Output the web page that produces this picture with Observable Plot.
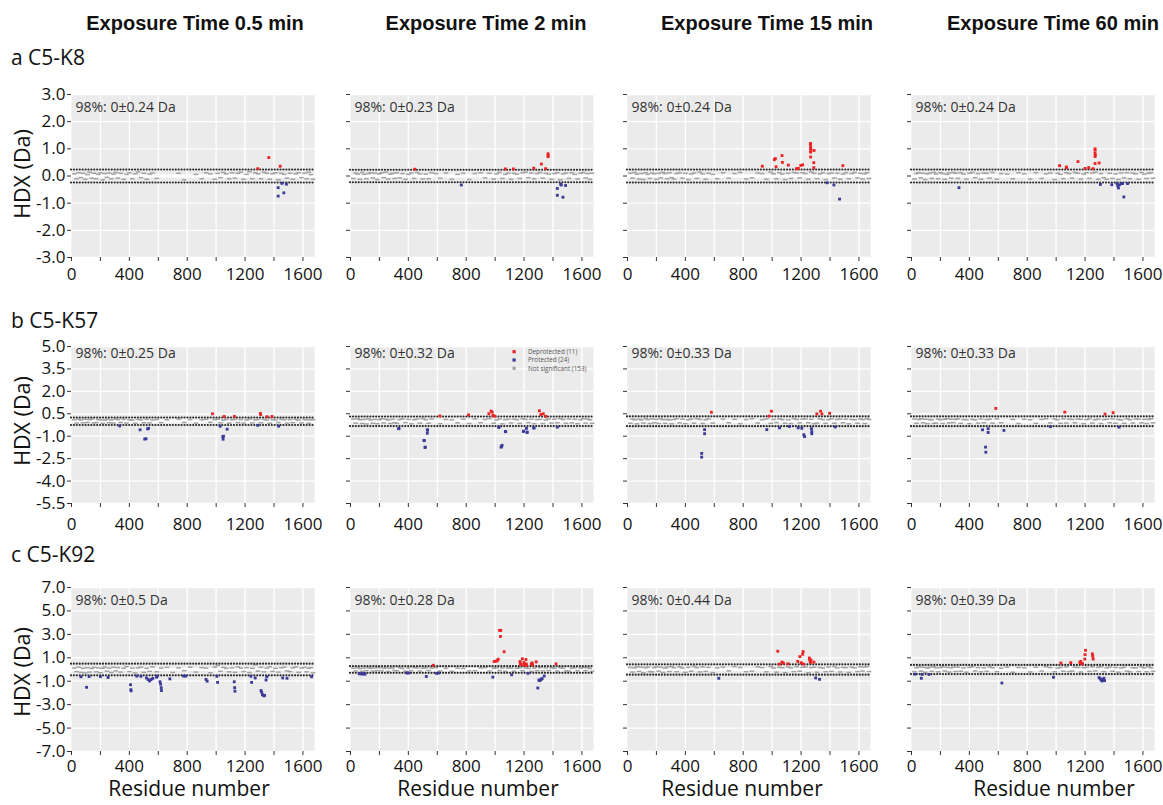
<!DOCTYPE html>
<html><head><meta charset="utf-8">
<script src="https://cdn.jsdelivr.net/npm/d3@7"></script>
<script src="https://cdn.jsdelivr.net/npm/@observablehq/plot@0.6"></script>
<style>
body{margin:0;background:#fff;}
#root{position:relative;width:1163px;height:805px;overflow:hidden;background:#fff;}
#root > svg{position:absolute;}
</style></head><body><div id="root"></div>
<script>
// ---------- categories / labels ----------
const exposureTitles = ["Exposure Time 0.5 min","Exposure Time 2 min","Exposure Time 15 min","Exposure Time 60 min"];
const rowLabels = ["a C5-K8","b C5-K57","c C5-K92"];
const legendLabels = ["Deprotected (11)","Protected (24)","Not significant (153)"];
const xMinorTicks = [0,200,400,600,800,1000,1200,1400,1600];
const xLabelTicks = [0,400,800,1200,1600];
const yTicksA = [-3,-2,-1,0,1,2,3];
const yTicksB = [-5.5,-4,-2.5,-1,0.5,2,3.5,5];
const yTicksC = [-7,-5,-3,-1,1,3,5,7];
// 98% significance thresholds (Da)
const thrA = [0.24,0.23,0.24,0.24];
const thrB = [0.25,0.32,0.33,0.33];
const thrC = [0.5,0.28,0.44,0.39];

// ---------- significant peptides [residue, HDX] ----------
const sigA1 = [[1288,0.27],[1364,0.68],[1443,0.36],[1429,-0.43],[1429,-0.74],[1468,-0.62],[1455,-0.27],[1486,-0.3]];
const sigA2 = [[444,0.25],[766,-0.33],[1071,0.26],[1126,0.26],[1267,0.29],[1320,0.44],[1349,0.27],[1366,0.82],[1366,0.76],[1366,0.71],[1430,-0.46],[1430,-0.71],[1453,-0.3],[1457,-0.33],[1469,-0.78],[1487,-0.35]];
const sigA3 = [[932,0.36],[1015,0.6],[1022,0.64],[1027,0.34],[1068,0.75],[1071,0.5],[1112,0.4],[1168,0.27],[1181,0.28],[1198,0.39],[1211,0.41],[1265,1.2],[1265,1.16],[1266,1.06],[1267,0.99],[1267,0.92],[1266,0.88],[1266,0.7],[1290,0.94],[1288,0.49],[1288,0.31],[1489,0.38],[1380,-0.25],[1427,-0.33],[1466,-0.85]];
const sigA4 = [[328,-0.43],[1024,0.38],[1070,0.31],[1072,0.33],[1151,0.53],[1200,0.28],[1225,0.31],[1255,0.27],[1269,1.0],[1269,0.95],[1269,0.84],[1271,0.77],[1269,0.72],[1269,0.46],[1297,0.48],[1306,-0.31],[1385,-0.32],[1420,-0.27],[1426,-0.36],[1431,-0.44],[1438,-0.32],[1452,-0.28],[1459,-0.28],[1468,-0.77],[1494,-0.28]];
const sigB1 = [[333,-0.31],[474,-0.57],[506,-1.19],[515,-1.17],[526,-0.51],[533,-0.47],[975,0.5],[1055,0.32],[1028,-0.33],[1046,-1.02],[1048,-1.2],[1051,-1.0],[1076,-0.53],[1126,0.32],[1306,0.52],[1308,0.45],[1352,0.3],[1386,0.32],[1287,-0.27],[1432,-0.33]];
const sigB2 = [[333,-0.5],[335,-0.48],[508,-1.28],[510,-1.3],[515,-1.75],[517,-1.73],[531,-0.57],[533,-0.6],[531,-0.8],[618,0.36],[816,0.43],[956,0.5],[972,0.68],[979,0.61],[985,0.4],[998,0.34],[1025,-0.41],[1027,-0.38],[1041,-1.73],[1043,-1.7],[1048,-1.61],[1071,-0.68],[1073,-0.7],[1195,-0.68],[1197,-0.66],[1216,-0.48],[1220,-0.75],[1222,-0.72],[1267,-0.43],[1269,-0.46],[1306,0.7],[1316,0.45],[1333,0.5],[1349,0.33],[1430,-0.39]];
const sigB3 = [[580,0.6],[513,-2.15],[513,-2.4],[533,-0.56],[533,-0.83],[979,0.35],[995,0.67],[963,-0.56],[1051,-0.44],[1120,-0.35],[1180,-0.44],[1205,-0.47],[1219,-0.9],[1224,-1.03],[1272,-0.49],[1274,-0.69],[1274,-0.83],[1309,0.49],[1335,0.67],[1344,0.49],[1397,0.53],[1436,-0.38]];
const sigB4 = [[491,-0.57],[512,-1.73],[514,-2.07],[530,-0.5],[530,-0.75],[583,0.86],[639,-0.61],[961,-0.36],[1060,0.61],[1338,0.48],[1394,0.57],[1435,-0.39]];
const sigC1 = [[65,-0.62],[104,-1.52],[122,-0.6],[200,-0.6],[253,-0.68],[408,-1.3],[410,-1.72],[412,-1.82],[452,-0.56],[480,-0.58],[518,-0.72],[530,-0.86],[540,-0.98],[550,-0.86],[562,-0.76],[588,-0.66],[594,-0.56],[612,-1.05],[616,-1.25],[620,-1.55],[622,-1.8],[680,-0.8],[775,-0.56],[790,-0.56],[930,-0.85],[938,-1.0],[1005,-0.58],[1010,-1.1],[1125,-1.05],[1128,-1.55],[1130,-1.85],[1240,-0.58],[1245,-1.1],[1270,-0.72],[1310,-1.8],[1315,-1.95],[1320,-2.15],[1330,-2.25],[1335,-2.2],[1345,-0.9],[1350,-0.62],[1460,-0.72],[1490,-0.75],[1660,-0.62]];
const sigC2 = [[60,-0.36],[72,-0.38],[85,-0.38],[95,-0.35],[100,-0.4],[391,-0.3],[403,-0.3],[524,-0.6],[572,0.36],[595,-0.33],[609,-0.3],[984,-0.65],[993,0.68],[1009,0.71],[1018,0.8],[1021,0.88],[1030,3.34],[1039,3.34],[1037,2.82],[1062,1.52],[1114,-0.45],[1172,0.68],[1174,0.48],[1181,0.42],[1188,0.91],[1199,0.59],[1201,0.36],[1213,0.85],[1215,0.48],[1217,0.36],[1227,-0.33],[1250,0.48],[1256,0.56],[1259,0.39],[1284,0.65],[1295,-1.58],[1302,-0.9],[1308,-0.95],[1314,-0.88],[1320,-0.82],[1325,-0.78],[1339,-0.56],[1421,0.48]];
const sigC3 = [[1039,1.56],[1049,0.46],[1068,0.63],[1078,0.55],[1109,0.49],[1177,0.69],[1192,1.1],[1201,0.58],[1211,1.3],[1214,1.53],[1218,0.46],[1257,0.98],[1260,0.84],[1263,0.69],[1266,0.6],[1269,0.8],[1289,0.63],[631,-0.75],[1301,-0.72],[1328,-0.84]];
const sigC4 = [[24,-0.4],[68,-0.75],[73,-0.42],[121,-0.42],[625,-1.15],[982,-0.66],[1033,0.55],[1101,0.58],[1164,0.6],[1170,0.69],[1177,0.52],[1183,0.49],[1200,1.27],[1203,1.64],[1198,0.89],[1251,1.33],[1253,1.12],[1256,0.89],[1297,-0.69],[1305,-0.8],[1312,-0.9],[1318,-0.98],[1325,-0.85],[1330,-0.75],[1335,-0.95]];

// ---------- not-significant peptides: shared residue positions + per-panel HDX ----------
const residues = [
 20,35,50,65,80,95,110,125,140,155,
 170,185,200,215,230,245,260,275,290,305,
 320,340,360,380,400,420,440,460,480,500,
 520,540,560,590,620,660,700,740,780,820,
 860,900,930,960,990,1010,1030,1050,1070,1090,
 1110,1130,1150,1170,1190,1210,1230,1250,1270,1290,
 1310,1330,1350,1370,1390,1410,1430,1450,1470,1490,
 1510,1530,1550,1570,1590,1610,1625,1640,1655,1670];
const greyA1 = [
 0.08,-0.10,0.12,-0.06,0.10,-0.12,0.05,0.14,-0.08,0.10,
 -0.10,0.06,0.12,-0.14,0.09,-0.05,0.11,-0.10,0.07,0.13,
 -0.08,0.10,-0.12,0.06,0.12,-0.10,0.08,0.15,-0.06,0.10,
 -0.12,0.07,0.11,-0.09,null,null,null,0.10,-0.14,null,
 0.06,-0.10,0.12,0.08,-0.12,0.10,-0.06,0.13,0.08,-0.10,
 0.12,-0.08,0.10,0.14,-0.12,0.06,0.16,-0.10,0.12,0.08,
 -0.10,0.14,0.10,-0.12,0.08,0.12,-0.14,0.10,0.06,-0.08,
 0.10,-0.12,0.08,0.12,-0.06,0.10,-0.10,0.14,0.05,-0.12];
const greyA2 = [
 -0.09,0.11,0.07,-0.12,0.13,0.06,-0.10,0.09,0.12,-0.07,
 0.10,-0.13,0.08,0.12,-0.06,0.14,-0.11,0.07,0.10,-0.09,
 0.12,-0.07,0.09,-0.12,0.06,0.11,-0.09,0.13,0.08,-0.11,
 0.07,-0.10,0.12,0.09,-0.08,0.11,-0.12,0.06,0.10,-0.13,
 0.09,0.12,-0.07,0.10,-0.11,0.08,0.13,-0.09,0.06,0.11,
 -0.12,0.10,0.07,-0.09,0.12,0.14,-0.06,0.11,-0.10,0.09,
 0.13,-0.08,0.10,0.07,-0.12,0.09,0.12,-0.14,0.08,0.11,
 -0.09,0.12,0.06,-0.11,0.10,0.13,-0.07,0.09,-0.12,0.10];
const greyA3 = [
 0.10,-0.08,0.13,0.07,-0.11,0.09,-0.13,0.12,0.06,-0.09,
 0.11,0.08,-0.12,0.10,-0.07,0.13,0.09,-0.10,0.12,-0.06,
 -0.11,0.09,0.12,-0.08,0.10,-0.13,0.07,0.11,-0.09,0.14,
 0.08,-0.12,0.10,0.06,-0.10,0.12,-0.08,0.09,0.13,-0.11,
 -0.07,0.11,0.09,-0.12,0.14,0.08,-0.10,0.12,0.07,-0.13,
 0.10,-0.09,0.13,0.11,-0.07,0.12,0.09,-0.12,0.15,0.10,
 -0.10,0.08,0.12,-0.13,0.09,0.11,-0.08,0.10,-0.12,0.07,
 0.12,-0.10,0.09,0.13,-0.07,0.10,-0.11,0.08,0.12,-0.09];
const greyA4 = [
 -0.11,0.09,0.12,-0.07,0.10,-0.13,0.08,0.11,-0.09,0.13,
 0.07,-0.10,0.12,0.09,-0.12,0.06,0.11,-0.08,0.13,0.10,
 -0.09,0.12,0.07,-0.11,0.10,0.13,-0.06,0.09,-0.12,0.11,
 0.10,-0.08,0.13,-0.12,0.09,0.07,-0.10,0.12,0.08,-0.11,
 0.12,-0.09,0.08,0.11,-0.13,0.10,0.06,-0.10,0.12,0.09,
 -0.08,0.13,0.10,-0.11,0.07,0.12,-0.09,0.11,0.14,-0.12,
 0.09,-0.06,-0.12,0.10,-0.09,0.08,-0.13,0.11,-0.07,0.12,
 -0.10,0.11,0.08,-0.12,0.13,0.07,-0.09,0.10,0.12,-0.08];
const greyB1 = [
 0.10,-0.12,0.14,0.08,-0.10,0.13,-0.08,0.11,0.15,-0.11,
 -0.09,0.12,0.10,-0.14,0.08,0.13,-0.10,0.09,-0.12,0.14,
 0.11,-0.08,0.13,-0.12,0.10,0.07,-0.13,0.12,0.09,-0.10,
 0.13,-0.11,0.08,0.12,-0.09,0.10,null,0.14,-0.08,0.11,
 -0.12,0.09,0.13,-0.07,0.11,0.14,-0.10,0.08,0.12,-0.13,
 0.10,0.13,-0.09,0.11,-0.12,0.08,0.14,-0.11,0.09,0.12,
 -0.10,0.12,0.08,-0.13,0.11,0.09,-0.08,0.13,0.10,-0.12,
 0.11,-0.09,0.13,0.08,-0.11,0.12,0.10,-0.13,0.09,0.12];
const greyB2 = [
 0.14,-0.12,0.18,0.10,-0.15,0.12,-0.18,0.16,0.09,-0.13,
 0.12,-0.16,0.10,0.17,-0.11,0.14,0.08,-0.15,0.13,-0.10,
 -0.14,0.11,0.16,-0.09,0.13,-0.17,0.10,0.15,-0.12,0.18,
 0.10,-0.13,0.15,null,-0.16,0.12,0.09,-0.11,0.14,-0.15,
 0.16,-0.10,0.12,0.18,-0.13,0.09,0.15,-0.17,0.11,0.13,
 -0.11,0.15,0.10,-0.14,0.17,0.12,-0.09,0.14,-0.16,0.11,
 0.13,-0.15,0.09,0.16,-0.12,0.14,-0.10,0.18,0.12,-0.14,
 0.15,-0.11,0.13,-0.16,0.10,0.17,-0.12,0.14,0.09,-0.13];
const greyB3 = [
 -0.13,0.15,0.10,-0.17,0.14,0.09,-0.12,0.18,0.11,-0.15,
 0.16,-0.10,0.13,-0.15,0.18,0.11,-0.14,0.12,0.09,-0.17,
 0.12,0.17,-0.11,0.14,-0.16,0.10,0.15,-0.13,0.18,0.12,
 -0.15,0.10,0.16,-0.12,null,0.14,-0.10,0.13,-0.16,0.11,
 0.17,-0.12,0.10,0.15,-0.14,0.12,-0.09,0.16,0.11,-0.13,
 0.10,-0.15,0.18,0.12,-0.11,0.14,0.16,-0.10,0.13,-0.16,
 -0.12,0.16,0.11,-0.14,0.10,0.17,-0.13,0.12,0.15,-0.10,
 0.14,-0.17,0.12,0.10,-0.13,0.16,0.11,-0.15,0.18,0.12];
const greyB4 = [
 0.15,-0.13,0.11,0.17,-0.10,0.14,-0.16,0.12,0.09,-0.14,
 -0.12,0.16,0.10,-0.15,0.13,0.18,-0.11,0.14,-0.09,0.12,
 0.17,-0.14,0.12,0.10,-0.16,0.13,0.09,-0.12,0.15,-0.10,
 0.11,0.14,-0.13,0.16,-0.10,null,0.12,-0.15,0.13,0.10,
 -0.14,0.12,0.17,-0.11,0.15,0.10,-0.13,0.16,-0.12,0.14,
 0.12,-0.10,0.15,0.13,-0.16,0.11,0.18,-0.12,0.10,0.14,
 -0.15,0.11,0.13,-0.10,0.16,-0.13,0.12,0.09,-0.14,0.17,
 0.10,-0.12,0.16,0.14,-0.11,0.13,-0.15,0.12,0.17,-0.10];
const greyC1 = [
 0.12,-0.18,0.20,-0.25,0.10,-0.30,0.15,-0.22,0.08,0.18,
 -0.20,0.14,-0.28,0.10,0.22,-0.15,0.12,-0.26,0.18,-0.12,
 0.16,-0.22,0.10,0.25,-0.18,0.12,-0.30,0.14,0.20,-0.24,
 0.10,-0.16,0.22,-0.20,0.12,0.18,-0.25,0.14,-0.10,0.20,
 -0.22,0.16,0.12,-0.28,0.20,0.35,-0.15,0.18,0.10,-0.20,
 0.14,-0.24,0.22,0.12,-0.18,0.16,-0.26,0.10,0.40,-0.14,
 0.18,-0.20,0.12,0.24,-0.16,0.10,-0.22,0.15,0.20,-0.12,
 -0.18,0.14,0.22,-0.24,0.12,0.18,-0.20,0.10,0.16,-0.28];
const greyC2 = [
 0.10,-0.12,0.14,0.08,-0.15,0.12,-0.09,0.16,0.11,-0.13,
 0.13,-0.10,0.15,-0.12,0.09,0.14,-0.16,0.10,0.12,-0.08,
 -0.11,0.15,0.09,-0.14,0.12,-0.10,0.16,0.13,-0.12,0.10,
 0.14,-0.09,0.12,0.16,-0.13,0.10,-0.15,0.11,0.09,-0.12,
 -0.10,0.13,0.16,-0.12,0.10,0.14,-0.09,0.12,-0.15,0.11,
 0.12,-0.14,0.10,0.15,-0.11,0.13,0.09,-0.16,0.12,-0.10,
 0.15,-0.11,0.13,-0.09,0.14,0.10,-0.13,0.16,0.11,-0.12,
 -0.13,0.10,0.15,-0.11,0.12,0.16,-0.10,0.14,0.09,-0.15];
const greyC3 = [
 0.18,-0.22,0.14,0.25,-0.16,0.20,-0.28,0.15,0.22,-0.18,
 -0.20,0.16,0.24,-0.14,0.19,-0.25,0.12,0.21,-0.17,0.26,
 0.15,-0.19,0.22,0.13,-0.24,0.18,-0.15,0.27,0.16,-0.21,
 0.23,-0.16,0.18,-0.26,0.14,0.20,-0.12,0.25,0.17,-0.19,
 -0.14,0.22,0.16,-0.20,0.26,0.13,-0.23,0.19,0.15,-0.27,
 0.21,0.14,-0.18,0.25,-0.15,0.19,0.23,-0.28,0.16,0.20,
 -0.24,0.17,0.13,-0.19,0.22,-0.16,0.26,0.14,-0.21,0.18,
 0.16,-0.25,0.20,0.14,-0.18,0.24,-0.13,0.21,0.27,-0.17];
const greyC4 = [
 -0.18,0.15,0.22,-0.14,0.19,-0.24,0.12,0.20,-0.16,0.23,
 0.14,-0.20,0.17,0.25,-0.13,0.18,-0.22,0.15,0.21,-0.17,
 0.20,-0.15,0.13,-0.23,0.18,0.24,-0.12,0.16,-0.20,0.14,
 -0.16,0.22,0.15,-0.19,0.12,0.20,-0.24,0.17,0.14,-0.21,
 0.19,-0.13,0.24,0.16,-0.20,0.13,0.18,-0.15,0.22,-0.18,
 -0.14,0.21,0.17,-0.22,0.15,0.19,-0.16,0.24,-0.12,0.18,
 0.23,-0.18,0.14,0.20,-0.15,0.17,-0.23,0.13,0.19,-0.14,
 -0.20,0.16,0.13,-0.17,0.22,0.15,-0.19,0.24,0.14,-0.16];

// ---------- layout / style ----------
const RED = "#ee2222", BLUE = "#3a3a98", GREY = "#a2a2a2", PANEL = "#ebebeb";
const FONT = "'Open Sans', 'Noto Sans', sans-serif";
const colX = [71, 350, 627, 911];
const rowTop = [94, 345.5, 586.5];
const rowH = [163, 157, 164];
const textDy = [7.5, 2, 8];
const xPad = [10, 14.5, 8];
const PW = 243, ML = 55, MR = 6, MT = 4, MB = 36;

const rowsTable = [
  {thr: thrA, ticks: yTicksA, sig: [sigA1,sigA2,sigA3,sigA4], grey: [greyA1,greyA2,greyA3,greyA4]},
  {thr: thrB, ticks: yTicksB, sig: [sigB1,sigB2,sigB3,sigB4], grey: [greyB1,greyB2,greyB3,greyB4]},
  {thr: thrC, ticks: yTicksC, sig: [sigC1,sigC2,sigC3,sigC4], grey: [greyC1,greyC2,greyC3,greyC4]}
];

const dash = {draw(ctx){ ctx.moveTo(-2.3,-0.75); ctx.lineTo(2.3,-0.75); ctx.lineTo(2.3,0.75); ctx.lineTo(-2.3,0.75); ctx.closePath(); }};

const root = document.getElementById("root");

rowsTable.forEach((row, r) => {
  for (let c = 0; c < 4; c++) {
    const thr = row.thr[c];
    const grey = row.grey[c].map((y, i) => ({x: residues[i], y})).filter(d => d.y != null);
    const sig = row.sig[c].map(([x, y]) => ({x, y}));
    const up = sig.filter(d => d.y > 0), down = sig.filter(d => d.y < 0);
    const yt = row.ticks;
    const svg = Plot.plot({
      width: PW + ML + MR, height: rowH[r] + MT + MB,
      marginLeft: ML, marginRight: MR, marginTop: MT, marginBottom: MB,
      x: {domain: [0, 1680], label: null},
      y: {domain: [yt[0], yt[yt.length - 1]], label: null},
      style: {fontFamily: FONT, fontSize: "17px", color: "#111", background: "transparent", overflow: "visible"},
      marks: [
        Plot.frame({fill: PANEL, stroke: "none"}),
        Plot.gridX(xMinorTicks.slice(1), {stroke: "#fff", strokeOpacity: 1, strokeWidth: 1.3}),
        Plot.gridY(yt, {stroke: "#fff", strokeOpacity: 1, strokeWidth: 1.3}),
        Plot.ruleY([0], {stroke: "#fff", strokeWidth: 3.2}),
        Plot.dot(grey, {x: "x", y: "y", symbol: dash, r: 1, fill: GREY, stroke: "none"}),
        Plot.ruleY([thr, -thr], {stroke: "#2a2a2a", strokeWidth: 2.2, strokeDasharray: "0.01 2.9", strokeLinecap: "round"}),
        Plot.dot(down, {x: "x", y: "y", symbol: "square", r: 1.6, fill: BLUE, stroke: "none"}),
        Plot.dot(up, {x: "x", y: "y", symbol: "square", r: 1.6, fill: RED, stroke: "none"}),
        Plot.axisY(yt, {tickSize: 4, tickPadding: 2, stroke: "#333", fill: "#111", fontSize: 17, label: null,
          tickFormat: c === 0 ? (d => d.toFixed(1)) : (() => "")}),
        Plot.axisX(xMinorTicks, {tickSize: 4, stroke: "#333", label: null, tickFormat: () => ""}),
        Plot.axisX(xLabelTicks, {tickSize: 0, tickPadding: xPad[r], fill: "#111", fontSize: 17, label: null, tickFormat: d => String(d)}),
        Plot.text([`98%: 0±${thr} Da`], {frameAnchor: "top-left", dx: 4, dy: textDy[r], fontSize: 14, fill: "#333"})
      ]
    });
    svg.style.left = (colX[c] - ML) + "px";
    svg.style.top = (rowTop[r] - MT) + "px";
    root.appendChild(svg);
  }
});

// ---------- overlay text ----------
const ov = d3.select(root).append("svg")
  .attr("width", 1163).attr("height", 805)
  .style("left", "0px").style("top", "0px").style("pointer-events", "none");

const titleX = [195, 486, 767, 1053];
exposureTitles.forEach((t, i) => ov.append("text").text(t)
  .attr("x", titleX[i]).attr("y", 30).attr("text-anchor", "middle")
  .attr("font-family", "'Liberation Sans', Arial, sans-serif").attr("font-weight", "bold")
  .attr("font-size", 20).attr("fill", "#111"));

const rowLabelY = [65, 328, 562];
rowLabels.forEach((t, i) => ov.append("text").text(t)
  .attr("x", 11).attr("y", rowLabelY[i])
  .attr("font-family", FONT).attr("font-size", 21).attr("fill", "#111"));

const hdxY = [174, 421, 672];
hdxY.forEach(cy => ov.append("text").text("HDX (Da)")
  .attr("transform", `translate(30,${cy}) rotate(-90)`).attr("text-anchor", "middle")
  .attr("font-family", FONT).attr("font-size", 21.5).attr("fill", "#111"));

const residueX = [189, 478, 742, 1054];
residueX.forEach(cx => ov.append("text").text("Residue number")
  .attr("x", cx).attr("y", 796).attr("text-anchor", "middle")
  .attr("font-family", FONT).attr("font-size", 21).attr("fill", "#111"));

// legend inside panel b / 2 min
const legColors = [RED, BLUE, GREY];
legendLabels.forEach((t, i) => {
  const y = 351.7 + i * 8.3;
  ov.append("rect").attr("x", 512.5).attr("y", y - 1.6).attr("width", 3.2).attr("height", 3.2).attr("fill", legColors[i]);
  ov.append("text").text(t).attr("x", 528).attr("y", y + 2.2)
    .attr("font-family", FONT).attr("font-size", 6.3).attr("fill", "#555");
});
</script></body></html>
